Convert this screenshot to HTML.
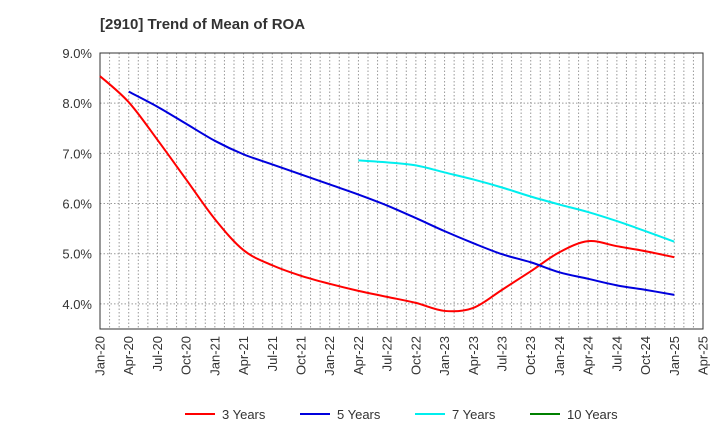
<!DOCTYPE html>
<html><head><meta charset="utf-8"><style>
body{margin:0;background:#fff;font-family:"Liberation Sans",sans-serif;}
svg{display:block}
</style></head><body>
<svg id="chart" width="720" height="440" xmlns="http://www.w3.org/2000/svg">
<text x="100" y="29" font-size="15" font-weight="bold" fill="#333">[2910]  Trend of Mean of ROA</text>
<g id="grid"></g><g id="axes"></g><g id="series"></g><g id="legend"></g>
</svg>
<script>
const xTickLabels=["Jan-20","Apr-20","Jul-20","Oct-20","Jan-21","Apr-21","Jul-21","Oct-21","Jan-22","Apr-22","Jul-22","Oct-22","Jan-23","Apr-23","Jul-23","Oct-23","Jan-24","Apr-24","Jul-24","Oct-24","Jan-25","Apr-25"];
const yTicks=[4,5,6,7,8,9];
const seriesNames=["3 Years","5 Years","7 Years","10 Years"];
const seriesColors=["#ff0000","#0000dd","#00eeee","#008000"];
const seriesStart=[0,1,9,null];
const roa3=[8.54,8.02,7.27,6.48,5.69,5.07,4.77,4.56,4.40,4.26,4.14,4.02,3.86,3.92,4.28,4.65,5.03,5.25,5.15,5.05,4.93];
const roa5=[8.23,7.93,7.59,7.25,6.98,6.78,6.58,6.38,6.18,5.96,5.71,5.45,5.21,4.99,4.83,4.63,4.50,4.37,4.28,4.18];
const roa7=[6.86,6.82,6.76,6.62,6.48,6.32,6.14,5.98,5.83,5.65,5.45,5.24];
const roa10=[];
const seriesData=[roa3,roa5,roa7,roa10];
const L=100,R=703,T=53,B=329,yMin=3.5,yMax=9.0,nMonths=63;
const xM=m=>L+(R-L)*m/nMonths;
const xQ=q=>xM(q*3);
const yS=v=>B-(v-yMin)/(yMax-yMin)*(B-T);
const NS="http://www.w3.org/2000/svg";
function mk(tag,attrs,parent){const e=document.createElementNS(NS,tag);for(const k in attrs)e.setAttribute(k,attrs[k]);parent.appendChild(e);return e;}
const grid=document.getElementById('grid'),axes=document.getElementById('axes'),ser=document.getElementById('series'),leg=document.getElementById('legend');
for(let m=1;m<nMonths;m++){const l=mk('line',{x1:xM(m),x2:xM(m),y1:T,y2:B,stroke:'#999','stroke-dasharray':'1.5,2','stroke-width':1},grid);

}
yTicks.forEach(v=>{const l=mk('line',{x1:L,x2:R,y1:yS(v),y2:yS(v),stroke:'#999','stroke-dasharray':'1.5,2','stroke-width':1},grid);


const t=mk('text',{x:L-8,y:yS(v)+5,'text-anchor':'end','font-size':13,fill:'#333'},axes);t.textContent=v.toFixed(1)+'%';

});
const fr=mk('rect',{x:L,y:T,width:R-L,height:B-T,fill:'none',stroke:'#333','stroke-width':1},axes);


xTickLabels.forEach((s,i)=>{const x=xQ(i);const t=mk('text',{x:0,y:0,transform:`translate(${x+4.5},${B+7}) rotate(-90)`,'text-anchor':'end','font-size':13,fill:'#333'},axes);t.textContent=s;

});
function smooth(pts){if(!pts.length)return'';let d=`M${pts[0][0]},${pts[0][1]}`;for(let i=0;i<pts.length-1;i++){const p0=pts[Math.max(0,i-1)],p1=pts[i],p2=pts[i+1],p3=pts[Math.min(pts.length-1,i+2)];
const c1=[p1[0]+(p2[0]-p0[0])/6,p1[1]+(p2[1]-p0[1])/6],c2=[p2[0]-(p3[0]-p1[0])/6,p2[1]-(p3[1]-p1[1])/6];d+=`C${c1[0]},${c1[1]} ${c2[0]},${c2[1]} ${p2[0]},${p2[1]}`;}return d;}
seriesData.forEach((arr,si)=>{if(!arr.length)return;const pts=arr.map((v,i)=>[xQ(seriesStart[si]+i),yS(v)]);
const p=mk('path',{d:smooth(pts),fill:'none',stroke:seriesColors[si],'stroke-width':2},ser);

});
const legX=[185,300,415,530];
seriesNames.forEach((n,i)=>{const g=mk('g',{},leg);


mk('line',{x1:legX[i],x2:legX[i]+30,y1:414,y2:414,stroke:seriesColors[i],'stroke-width':2},g);
const t=mk('text',{x:legX[i]+37,y:419,'font-size':13,fill:'#333'},g);t.textContent=n;});
</script>
</body></html>
